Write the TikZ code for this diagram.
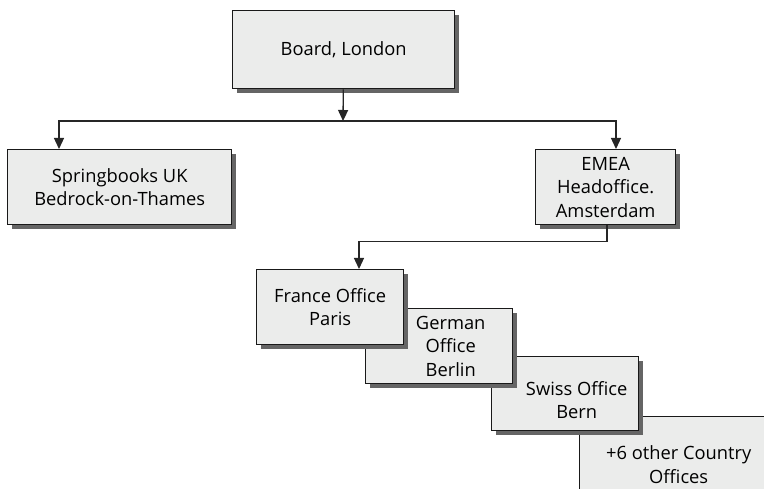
\documentclass[tikz,border=0pt]{standalone}
\usepackage{fontspec}
\setmainfont{Open Sans}
\usetikzlibrary{positioning,shadows,arrows.meta}
\definecolor{boxgray}{HTML}{EBECEB}
\definecolor{shadegray}{HTML}{656565}

\begin{document}
\begin{tikzpicture}
[x=1pt,y=-1pt,>={Triangle[width=10pt,length=11pt]},
txt/.style={font=\fontsize{18.3}{23.5}\selectfont,align=center,text=black},
office/.style={draw=black!90,line width=1.4pt,fill=boxgray,anchor=north west,inner sep=0pt,txt,
  drop shadow={shadow xshift=4.5pt,shadow yshift=-4.5pt,fill=shadegray,opacity=1}},
link/.style={line width=1.3pt,draw=black!85}]
\useasboundingbox (0,0) rectangle (764,489);
\clip (0,0) rectangle (764,489);

%Top levels
\node (board) at (232,10)[office,minimum width=222pt,minimum height=78pt] {Board, London};
\node (uk) at (7,149)[office,minimum width=224pt,minimum height=75pt] {Springbooks UK\\Bedrock-on-Thames};
\node (emea) at (535,149)[office,minimum width=140pt,minimum height=75pt] {EMEA\\Headoffice.\\Amsterdam};

%Country offices, back to front
\node (other) at (579,416)[office,minimum width=198pt,minimum height=96pt] {+6 other Country\\Offices};
\node (swiss) at (491,356)[office,minimum width=147pt,minimum height=74pt,
  label={[txt,xshift=11.5pt,yshift=-6.5pt]center:Swiss Office\\Bern}] {};
\node (german) at (365,308)[office,minimum width=147pt,minimum height=75pt,
  label={[txt,xshift=11.5pt]center:German\\Office\\Berlin}] {};
\node (france) at (256,269)[office,minimum width=147pt,minimum height=75pt] {France Office\\Paris};

%Connectors
\coordinate (split) at (343,121);
\draw[link,->] (board) -- (split);
\draw[link,->] (split) -| ([xshift=52pt]uk.north west);
\draw[link,->] (split) -| ([xshift=81pt]emea.north west);
\draw[link,->] ([xshift=72pt]emea.south west) -- ++(0,16) -| ([xshift=103pt]france.north west);
\end{tikzpicture}
\end{document}
